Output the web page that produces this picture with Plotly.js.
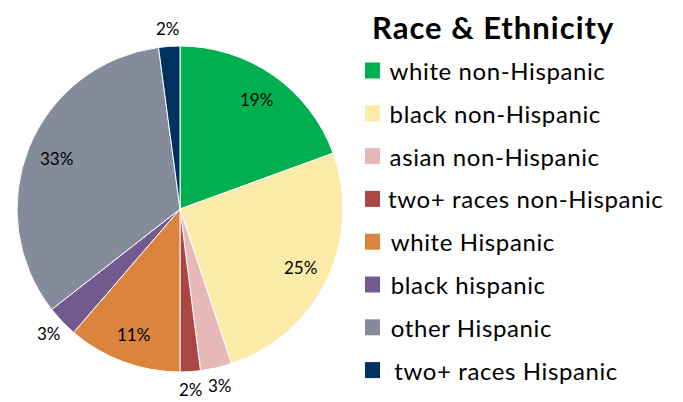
<!DOCTYPE html>
<html>
<head>
<meta charset="utf-8">
<script src="https://cdn.plot.ly/plotly-3.0.1.min.js"></script>
<style>
html,body{margin:0;padding:0;background:#fff;}
#chart{width:683px;height:402px;}
</style>
</head>
<body>
<div id="chart"></div>
<script>
const categories = ["white non-Hispanic", "black non-Hispanic", "asian non-Hispanic", "two+ races non-Hispanic", "white Hispanic", "black hispanic", "other Hispanic", "two+ races Hispanic"];
const shares = [19.4, 25.4, 3.1, 2.0, 11.3, 3.1, 33.4, 2.1];
const colors = ["#00B050", "#FDEBA9", "#E6B9B8", "#AA4643", "#DB843D", "#725A8F", "#848B9B", "#00325F"];
const legendTitle = "Race & Ethnicity";

const W = 683, H = 402;
const font = "Lato, 'Open Sans', sans-serif";

// pie box in pixels
const px0 = 17, px1 = 343, py0 = 46, py1 = 372;
const cx = (px0 + px1) / 2, cy = (py0 + py1) / 2, R = (px1 - px0) / 2;

const trace = {
  type: "pie",
  labels: categories,
  values: shares,
  sort: false,
  direction: "clockwise",
  rotation: 0,
  marker: {colors: colors, line: {color: "#ffffff", width: 1}},
  textinfo: "none",
  domain: {x: [px0 / W, px1 / W], y: [1 - py1 / H, 1 - py0 / H]},
  showlegend: false,
  hoverinfo: "label+percent"
};

const annotations = [];
// percentage labels placed along each slice's mid-angle
const total = shares.reduce((a, b) => a + b, 0);
let cum = 0;
shares.forEach((v, i) => {
  const frac = v / total;
  const mid = (cum + frac / 2) * 2 * Math.PI;
  cum += frac;
  const inside = frac >= 0.05;
  const r = inside ? 0.82 * R : 1.11 * R;
  const x = cx + r * Math.sin(mid);
  const y = cy - r * Math.cos(mid);
  annotations.push({
    xref: "paper", yref: "paper", x: x / W, y: 1 - y / H,
    xanchor: "center", yanchor: "middle", showarrow: false,
    text: Math.round(frac * 100) + "%",
    font: {family: font, size: 17, color: "#000"}
  });
});

annotations.push({
  xref: "paper", yref: "paper", x: 378 / W, y: 1 - 27 / H,
  xanchor: "left", yanchor: "middle", showarrow: false,
  text: "<b>" + legendTitle.replace("&", "&amp;") + "</b>",
  font: {family: font, size: 31, color: "#000"}
});
const shapes = [];
const rowTop = 70.5, rowGap = 42.8;
categories.forEach((c, i) => {
  const yc = rowTop + i * rowGap;
  annotations.push({
    xref: "paper", yref: "paper", x: (i === categories.length - 1 ? 398 : 393) / W, y: 1 - yc / H,
    xanchor: "left", yanchor: "middle", showarrow: false,
    text: c, font: {family: font, size: 24, color: "#000"}
  });
  shapes.push({
    type: "rect", xref: "paper", yref: "paper",
    x0: 365 / W, x1: 380 / W, y0: 1 - (yc - 8) / H, y1: 1 - (yc + 8) / H,
    fillcolor: colors[i], line: {width: 0}
  });
});

const layout = {
  width: W, height: H,
  margin: {l: 0, r: 0, t: 0, b: 0},
  paper_bgcolor: "#fff",
  plot_bgcolor: "#fff",
  showlegend: false,
  annotations: annotations,
  shapes: shapes
};

Plotly.newPlot("chart", [trace], layout, {displayModeBar: false, staticPlot: true}).then(gd => {
  // slight letter spacing on legend texts to mimic the original's wider face
  const nPct = shares.length;
  gd.querySelectorAll(".annotation").forEach((g, k) => {
    if (k >= nPct) {
      const t = g.querySelector("text");
      if (t) t.style.letterSpacing = (k === nPct ? "1px" : "0.6px");
    }
  });
});
</script>
</body>
</html>
